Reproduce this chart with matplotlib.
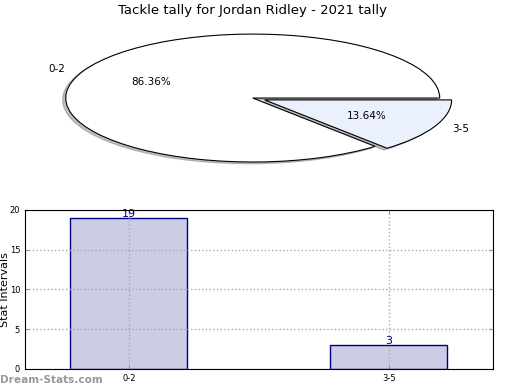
import matplotlib
matplotlib.use('Agg')
import matplotlib.pyplot as plt
import numpy as np

title = 'Tackle tally for Jordan Ridley - 2021 tally'
intervals = ['0-2', '3-5']
counts = [19, 3]
pie_colors = ['white', '#eaf1fd']
bar_face = '#ccccE4'
bar_edge = '#000080'

fig = plt.figure(figsize=(5.2, 3.9), dpi=100)

# pie on top, stretched (no equal aspect)
ax1 = fig.add_axes([0.0365, 0.5436, 0.899, 0.410])
wedges, texts, autotexts = ax1.pie(counts, labels=intervals, colors=pie_colors,
                                   autopct='%.2f%%', explode=[0, 0.07],
                                   shadow={'ox': -0.012, 'oy': -0.02, 'shade': 0.5},
                                   startangle=0,
                                   wedgeprops={'edgecolor': 'black', 'linewidth': 0.8},
                                   textprops={'fontsize': 7.5})
ax1.set_aspect('auto')
ax1.set_xlim(-1.25, 1.25)
ax1.set_ylim(-1.25, 1.25)
ax1.set_title(title, fontsize=9.5, pad=3)

# bar chart below
ax2 = fig.add_axes([0.048, 0.054, 0.9, 0.408])
x = np.arange(len(intervals))
ax2.bar(x, counts, width=0.45, color=bar_face, edgecolor=bar_edge, linewidth=1)
for xi, v in zip(x, counts):
    ax2.text(xi, v + 0.5, str(v), ha='center', va='center', color=bar_edge, fontsize=8)
ax2.set_xlim(-0.4, 1.4)
ax2.set_ylim(0, 20)
ax2.set_xticks(x)
ax2.set_xticklabels(intervals)
ax2.set_yticks([0, 5, 10, 15, 20])
ax2.tick_params(labelsize=6, direction='in', length=3, color='#999999',
                right=True, top=True)
ax2.grid(True, linestyle=':', color='#aaaaaa', linewidth=1)
for sp in ax2.spines.values():
    sp.set_zorder(5)
ax2.set_xlabel('Frequency', fontsize=8, labelpad=8)
ax2.set_ylabel('Stat Intervals', fontsize=8)
ax2.yaxis.set_label_coords(-0.031, 0.5)

fig.text(0.0, 0.025, 'Dream-Stats.com', fontsize=7.6, color='#999999',
         fontweight='bold', ha='left', va='center')

fig.savefig('out.png', dpi=100)
